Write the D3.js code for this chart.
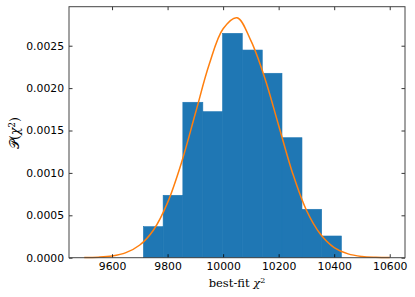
<!DOCTYPE html>
<html>
  <head>
    <meta charset="utf-8">
    <title>best-fit chi2 distribution</title>
    <script src="https://d3js.org/d3.v7.min.js"></script>
    <style>
      body { margin: 0; background: #fff; }
      svg text { font-family: "DejaVu Sans", sans-serif; fill: #000; }
      .serif { font-family: "DejaVu Serif", "Liberation Serif", serif; }
    </style>
  </head>
  <body>
    <svg id="chart" width="415" height="297"></svg>
    <script>
      // histogram bins (edges) and density heights
      var binEdges = [9713, 9784, 9855, 9927, 9998, 10069, 10141, 10212, 10284, 10355, 10426];
      var binValues = [0.000366, 0.000736, 0.001833, 0.001722, 0.002646, 0.002449, 0.002175, 0.001415, 0.000571, 0.000256];
      // fitted curve, sampled every 50
      var curveX = [9500, 9550, 9600, 9650, 9700, 9750, 9800, 9850, 9900, 9950, 10000, 10050,
                    10100, 10150, 10200, 10250, 10300, 10350, 10400, 10450, 10500, 10550, 10600];
      var curveY = [0.000002, 0.000006, 0.00002, 0.00006, 0.00015, 0.00033, 0.00065, 0.00112, 0.0017, 0.00228, 0.0027, 0.00283,
                    0.00256, 0.00212, 0.00156, 0.001, 0.00056, 0.00028, 0.00012, 0.000045, 0.000015, 0.000005, 0.000001];
      var xTicks = [9600, 9800, 10000, 10200, 10400, 10600];
      var yTicks = [0, 0.0005, 0.001, 0.0015, 0.002, 0.0025];

      var margin = { top: 6.7, right: 10, bottom: 39.3, left: 69 };
      var width = 415 - margin.left - margin.right;
      var height = 297 - margin.top - margin.bottom;

      var svg = d3.select("#chart");
      var g = svg.append("g")
        .attr("transform", "translate(" + margin.left + "," + margin.top + ")");

      var x = d3.scaleLinear().domain([9445, 10655]).range([0, width]);
      var y = d3.scaleLinear().domain([0, 0.00296]).range([height, 0]);

      // bars
      g.selectAll(".bar")
          .data(binValues)
        .enter().append("rect")
          .attr("class", "bar")
          .attr("x", function(d, i) { return x(binEdges[i]); })
          .attr("width", function(d, i) { return x(binEdges[i + 1]) - x(binEdges[i]); })
          .attr("y", function(d) { return y(d); })
          .attr("height", function(d) { return height - y(d); })
          .attr("fill", "#1f77b4")
          .attr("stroke", "#1f77b4")
          .attr("stroke-width", 0.6);

      // curve
      var line = d3.line()
        .x(function(d, i) { return x(curveX[i]); })
        .y(function(d) { return y(d); })
        .curve(d3.curveCatmullRom);
      g.append("path")
        .datum(curveY)
        .attr("d", line)
        .attr("fill", "none")
        .attr("stroke", "#ff7f0e")
        .attr("stroke-width", 1.5);

      // axes, ticks pointing inward on all sides
      function styleAxis(sel) {
        sel.select(".domain").remove();
        sel.selectAll(".tick line").attr("stroke", "#000").attr("stroke-width", 0.8);
        sel.selectAll(".tick text").style("font-size", "10.8px");
      }
      g.append("g")
        .attr("transform", "translate(0," + height + ")")
        .call(d3.axisBottom(x).tickValues(xTicks).tickSizeInner(-3.5).tickPadding(5).tickFormat(d3.format("d")))
        .call(styleAxis);
      g.append("g")
        .call(d3.axisTop(x).tickValues(xTicks).tickSizeInner(-3.5).tickFormat(""))
        .call(styleAxis);
      g.append("g")
        .call(d3.axisLeft(y).tickValues(yTicks).tickSizeInner(-3.5).tickPadding(5).tickFormat(d3.format(".4f")))
        .call(styleAxis);
      g.append("g")
        .attr("transform", "translate(" + width + ",0)")
        .call(d3.axisRight(y).tickValues(yTicks).tickSizeInner(-3.5).tickFormat(""))
        .call(styleAxis);

      // frame
      g.append("rect")
        .attr("width", width)
        .attr("height", height)
        .attr("fill", "none")
        .attr("stroke", "#444")
        .attr("stroke-width", 1);

      // labels
      svg.append("text")
        .attr("class", "serif")
        .attr("x", margin.left + width / 2)
        .attr("y", 287)
        .attr("text-anchor", "middle")
        .style("font-size", "11.5px")
        .html('best-fit <tspan font-style="italic">χ</tspan><tspan dy="-4" font-size="8px">2</tspan>');
      svg.append("text")
        .attr("class", "serif")
        .attr("transform", "translate(19,133) rotate(-90)")
        .attr("text-anchor", "middle")
        .style("font-size", "12.5px")
        .html('𝒫(<tspan font-style="italic">χ</tspan><tspan dy="-4.5" font-size="8.5px">2</tspan><tspan dy="4.5">)</tspan>');
    </script>
  </body>
</html>
